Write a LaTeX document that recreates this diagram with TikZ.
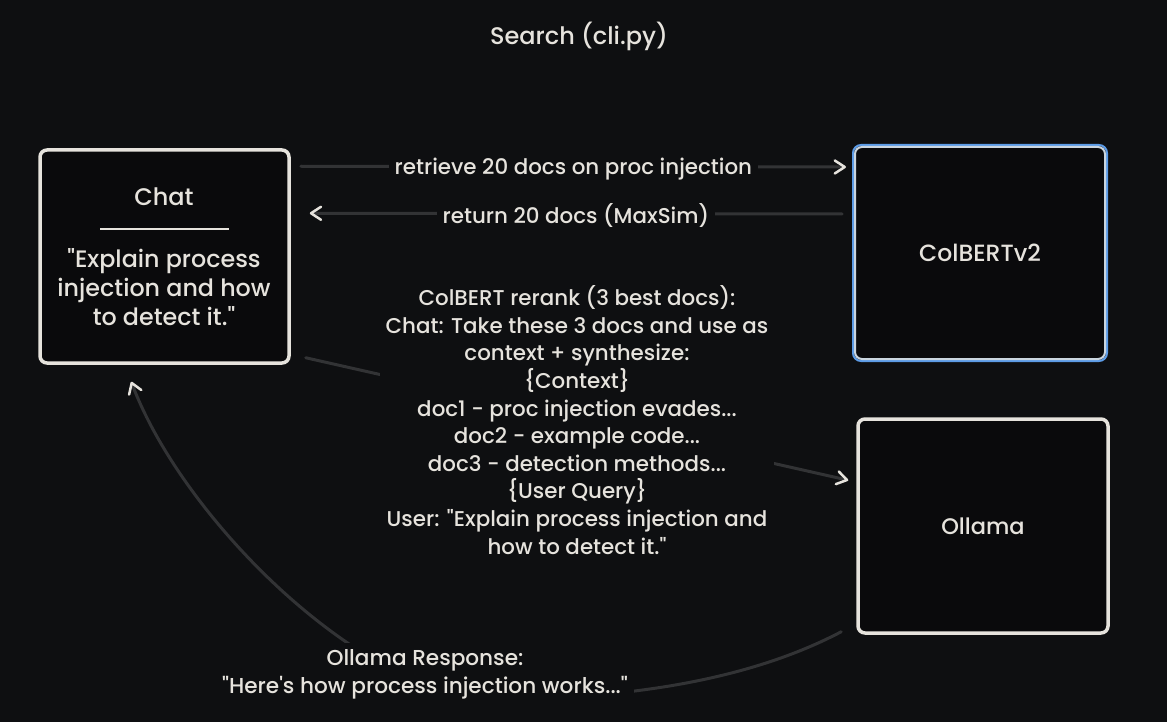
\documentclass[tikz,border=0pt]{standalone}
\usepackage{fontspec}
\setmainfont{Poppins Medium}[Ligatures=TeXOff]
\usetikzlibrary{arrows.meta}
\definecolor{canvas}{RGB}{14,15,17}
\definecolor{chalk}{RGB}{230,227,221}
\definecolor{wiregray}{RGB}{50,51,53}
\definecolor{pickblue}{RGB}{92,155,230}

\begin{document}
\begin{tikzpicture}[x=1pt, y=-1pt,
    box/.style={draw=chalk, line width=3.5pt, rounded corners=7pt, fill=canvas!70!black},
    txt/.style={text=chalk, font=\fontsize{21.4}{27.6}\selectfont, align=center, inner sep=0pt},
    lbl/.style={txt, fill=canvas, inner sep=6pt},
    link/.style={draw=wiregray, line width=3pt, line cap=round, -{Straight Barb[length=10pt, width=13pt, line width=2.5pt, color=chalk, round]}}]
    \fill[canvas] (0,0) rectangle (1167,722);
    \useasboundingbox (0,0) rectangle (1167,722);

    \node[txt, font=\fontsize{24}{28}\selectfont] (title) at (579,36) {Search (cli.py)};

    \node[box, minimum width=249pt, minimum height=213pt] (chat) at (164.5,256.5) {};
    \node[txt, font=\fontsize{24}{29}\selectfont] (chattitle) at (164,197) {Chat};
    \draw[chalk, line width=2pt] ([shift={(-64.5,-27.5)}]chat.center) -- ([shift={(64.5,-27.5)}]chat.center);
    \node[txt, font=\fontsize{23.8}{29}\selectfont] (query) at (164,287) {"Explain process\\injection and how\\to detect it."};

    \draw[pickblue, line width=2pt, rounded corners=8pt] (853,145) rectangle (1107,361);
    \node[box, draw=chalk!80!pickblue, line width=2pt, minimum width=250pt, minimum height=212pt, font=\fontsize{23.5}{28}\selectfont, text=chalk] (colbert) at (980,253) {ColBERTv2};
    \node[box, minimum width=250pt, minimum height=214pt, font=\fontsize{22.5}{28}\selectfont, text=chalk] (ollama) at (983,526) {Ollama};

    \draw[link] ([shift={(10,18)}]chat.north east) -- ([shift={(-8,21)}]colbert.north west) node[lbl, midway, yshift=-2pt] (ask) {retrieve 20 docs on proc injection};
    \draw[link] ([shift={(-12,68)}]colbert.north west) -- ([shift={(19,65)}]chat.north east) node[lbl, midway, yshift=-2pt] (back) {return 20 docs (MaxSim)};
    \draw[link] ([shift={(15,-7)}]chat.south east) -- ([shift={(-8,63)}]ollama.north west);
    \node[lbl] (prompt) at (577,420) {ColBERT rerank (3 best docs):\\Chat: Take these 3 docs and use as\\context + synthesize:\\\{Context\}\\doc1 - proc injection evades...\\doc2 - example code...\\doc3 - detection methods...\\\{User Query\}\\User: "Explain process injection and\\how to detect it."};

    \draw[link] ([shift={(-15,-3)}]ollama.south west) .. controls (740,685) and (610,699) .. (495,699) .. controls (365,699) and (183,520) .. ([shift={(93,17)}]chat.south west);
    \node[lbl, font=\fontsize{21.6}{28}\selectfont] (reply) at (425,674) {Ollama Response:\\"Here's how process injection works..."};
\end{tikzpicture}
\end{document}
